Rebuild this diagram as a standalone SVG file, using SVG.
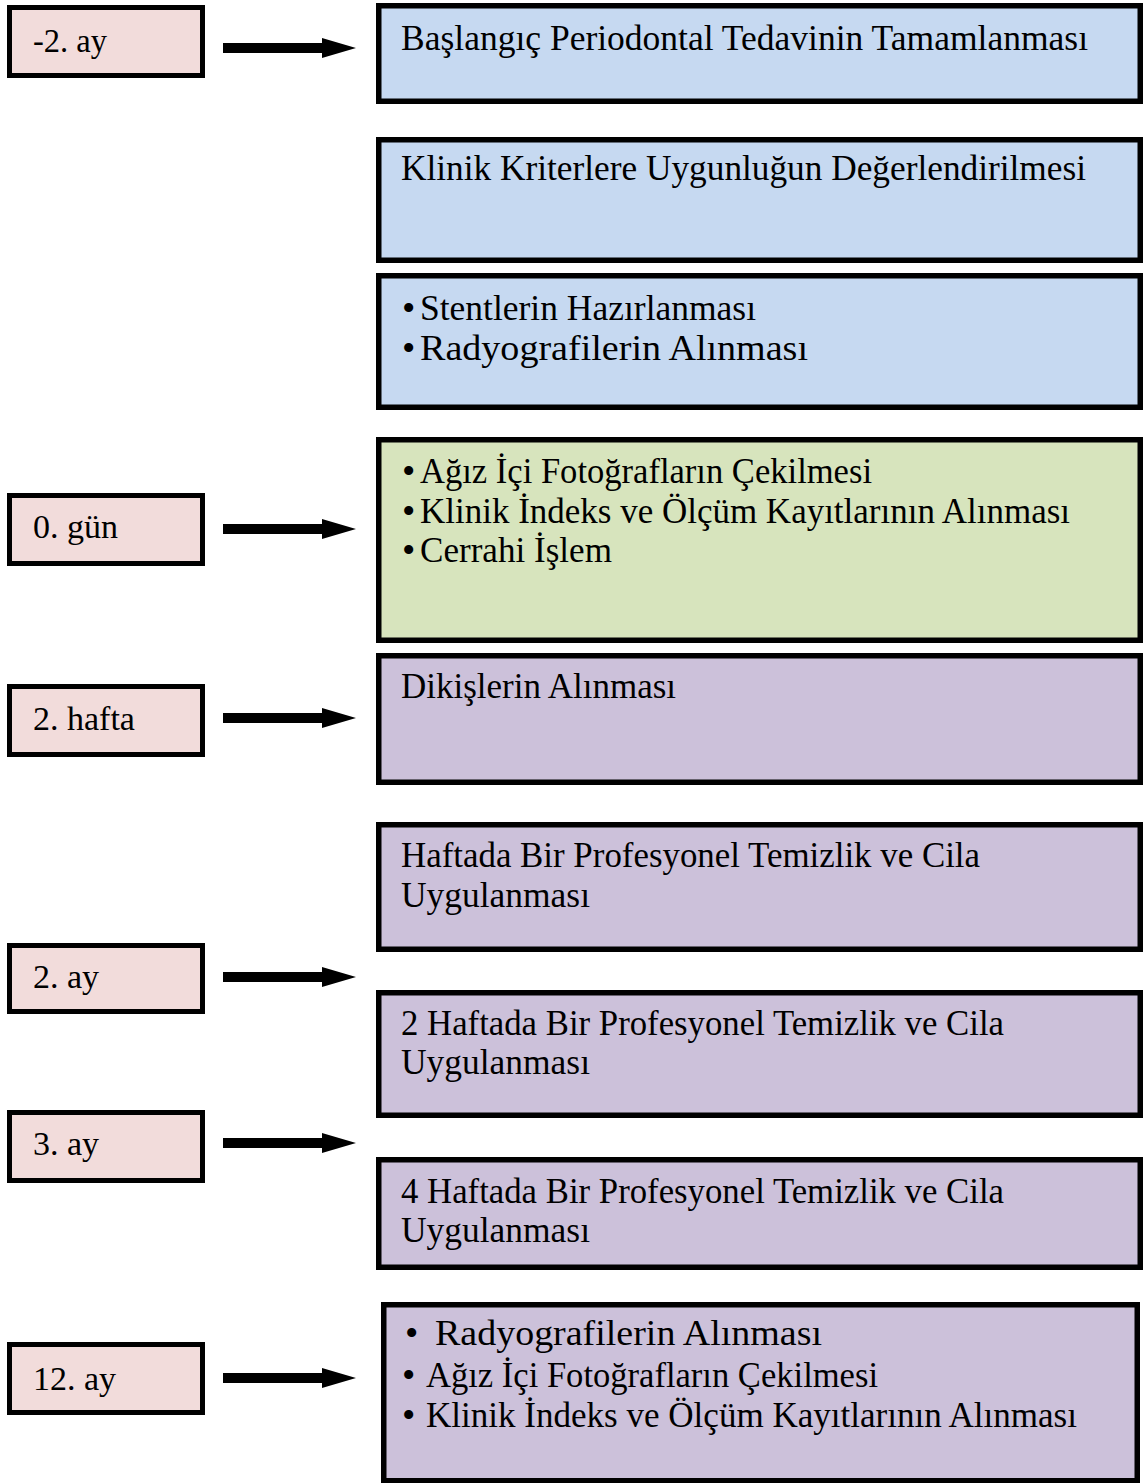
<svg xmlns="http://www.w3.org/2000/svg" width="1144" height="1483" viewBox="0 0 1144 1483">
<style>
.lbl{fill:#f2dcdb;stroke:#000;stroke-width:5}
.box{stroke:#000;stroke-width:5.5}
.blue{fill:#c6d9f1}
.green{fill:#d7e4bd}
.purple{fill:#ccc1da}
text{font-family:"Liberation Serif","Times New Roman",serif;font-size:35.5px;fill:#000}
.lt{font-size:34px}
.bul{font-size:38px}
.arrow{fill:#000}
</style>
<defs>
<polygon id="arr" points="223,-5 322,-5 322,-10 356,0 322,10 322,5 223,5"/>
</defs>
<rect width="1144" height="1483" fill="#fff"/>

<g id="lbl-m2ay"><rect class="lbl" x="9.5" y="7.5" width="193" height="68"/><text class="lt" x="33" y="52" textLength="74" lengthAdjust="spacingAndGlyphs">-2. ay</text></g>
<g id="lbl-0gun"><rect class="lbl" x="9.5" y="495.5" width="193" height="68"/><text class="lt" x="33" y="538">0. gün</text></g>
<g id="lbl-2hafta"><rect class="lbl" x="9.5" y="686.5" width="193" height="68"/><text class="lt" x="33" y="730">2. hafta</text></g>
<g id="lbl-2ay"><rect class="lbl" x="9.5" y="945.5" width="193" height="66"/><text class="lt" x="33" y="988">2. ay</text></g>
<g id="lbl-3ay"><rect class="lbl" x="9.5" y="1112.5" width="193" height="68"/><text class="lt" x="33" y="1155">3. ay</text></g>
<g id="lbl-12ay"><rect class="lbl" x="9.5" y="1344.5" width="193" height="68"/><text class="lt" x="33" y="1390">12. ay</text></g>

<g id="connectors">
<use href="#arr" class="arrow" y="48"/>
<use href="#arr" class="arrow" y="529"/>
<use href="#arr" class="arrow" y="718"/>
<use href="#arr" class="arrow" y="977"/>
<use href="#arr" class="arrow" y="1143"/>
<use href="#arr" class="arrow" y="1378"/>
</g>

<g id="box-baslangic"><rect class="box blue" x="378.75" y="5.75" width="761.5" height="95.5"/>
<text x="401" y="50" textLength="687" lengthAdjust="spacingAndGlyphs">Başlangıç Periodontal Tedavinin Tamamlanması</text></g>

<g id="box-klinik-kriter"><rect class="box blue" x="378.75" y="139.75" width="761.5" height="120.5"/>
<text x="401" y="180" textLength="685" lengthAdjust="spacingAndGlyphs">Klinik Kriterlere Uygunluğun Değerlendirilmesi</text></g>

<g id="box-stent"><rect class="box blue" x="378.75" y="275.75" width="761.5" height="131.5"/>
<text class="bul" x="402" y="321">•</text><text x="420" y="320" textLength="336" lengthAdjust="spacingAndGlyphs">Stentlerin Hazırlanması</text>
<text class="bul" x="402" y="361">•</text><text x="420" y="360" textLength="388" lengthAdjust="spacingAndGlyphs">Radyografilerin Alınması</text></g>

<g id="box-cerrahi"><rect class="box green" x="378.75" y="439.75" width="761.5" height="200.5"/>
<text class="bul" x="402" y="484">•</text><text x="420" y="483" textLength="452" lengthAdjust="spacingAndGlyphs">Ağız İçi Fotoğrafların Çekilmesi</text>
<text class="bul" x="402" y="524">•</text><text x="420" y="523" textLength="650" lengthAdjust="spacingAndGlyphs">Klinik İndeks ve Ölçüm Kayıtlarının Alınması</text>
<text class="bul" x="402" y="563">•</text><text x="420" y="562" textLength="192" lengthAdjust="spacingAndGlyphs">Cerrahi İşlem</text></g>

<g id="box-dikis"><rect class="box purple" x="378.75" y="655.75" width="761.5" height="126.5"/>
<text x="401" y="698" textLength="275" lengthAdjust="spacingAndGlyphs">Dikişlerin Alınması</text></g>

<g id="box-haftada"><rect class="box purple" x="378.75" y="824.75" width="761.5" height="124.5"/>
<text x="401" y="867" textLength="579" lengthAdjust="spacingAndGlyphs">Haftada Bir Profesyonel Temizlik ve Cila</text>
<text x="401" y="907" textLength="189" lengthAdjust="spacingAndGlyphs">Uygulanması</text></g>

<g id="box-2haftada"><rect class="box purple" x="378.75" y="992.75" width="761.5" height="122.5"/>
<text x="401" y="1035" textLength="603" lengthAdjust="spacingAndGlyphs">2 Haftada Bir Profesyonel Temizlik ve Cila</text>
<text x="401" y="1074" textLength="189" lengthAdjust="spacingAndGlyphs">Uygulanması</text></g>

<g id="box-4haftada"><rect class="box purple" x="378.75" y="1159.75" width="761.5" height="107.5"/>
<text x="401" y="1203" textLength="603" lengthAdjust="spacingAndGlyphs">4 Haftada Bir Profesyonel Temizlik ve Cila</text>
<text x="401" y="1242" textLength="189" lengthAdjust="spacingAndGlyphs">Uygulanması</text></g>

<g id="box-12ay"><rect class="box purple" x="383.75" y="1304.75" width="753.5" height="176"/>
<text class="bul" x="405" y="1346">•</text><text x="435" y="1345" textLength="387" lengthAdjust="spacingAndGlyphs">Radyografilerin Alınması</text>
<text class="bul" x="402" y="1388">•</text><text x="426" y="1387" textLength="452" lengthAdjust="spacingAndGlyphs">Ağız İçi Fotoğrafların Çekilmesi</text>
<text class="bul" x="402" y="1428">•</text><text x="426" y="1427" textLength="651" lengthAdjust="spacingAndGlyphs">Klinik İndeks ve Ölçüm Kayıtlarının Alınması</text></g>
</svg>
